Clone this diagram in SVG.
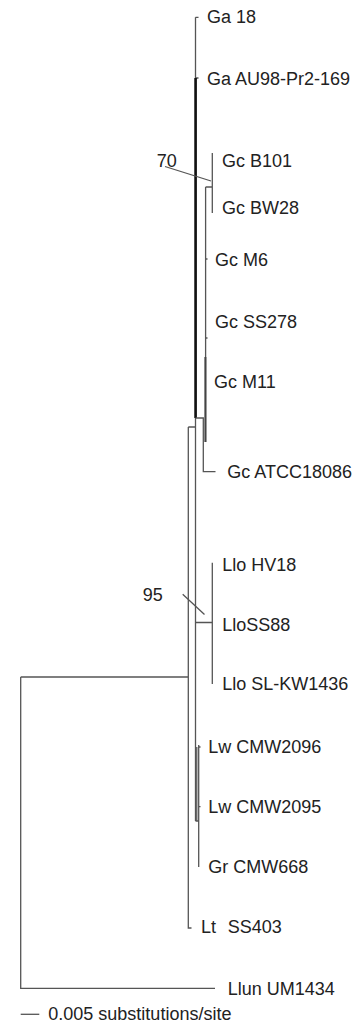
<svg xmlns="http://www.w3.org/2000/svg" width="362" height="1026" viewBox="0 0 362 1026">
<style>
text{font-family:"Liberation Sans",Arial,sans-serif;font-size:18px;fill:#222}
.l{stroke:#555;stroke-width:1.3;fill:none}
.t{stroke:#111;stroke-width:2.6;fill:none}
.m{stroke:#444;stroke-width:2;fill:none}
</style>
<rect width="362" height="1026" fill="#fff"/>
<g id="connectors">
<path class="l" d="M20.7,677 V988.3 H215 M20.7,677 H188.3 M188.3,427 V928 H191.5 M188.3,427 H195.5 M195.5,17.3 V821 M195.5,17.3 H198.5 M195.5,78 H198.5"/>
<path class="t" d="M195.6,78 V418"/>
<path class="l" d="M195.6,418 H203.3 V471.7 H215.5 M205.6,187 V442 M205.6,187 H212.3 M212.3,153 V213 M205.6,259 H207.5 M205.6,338 H207.5"/>
<path class="m" d="M205.4,357 V442"/>
<path class="l" d="M195.5,622.5 H212.3 M212.3,562.7 V684"/>
<path class="l" d="M195.5,821 H198.7 M196.8,747 V821 M198.7,745 V867 M198.7,747 H200.5 M198.7,806.7 H200.5"/>
<path class="l" d="M165,166.5 L211,181 M182.7,594.3 L204.5,614.5"/>
<path class="l" d="M20.7,1014.3 H39.3"/>
</g>
<g id="labels">
<text x="207" y="23">Ga 18</text>
<text x="207" y="85">Ga AU98-Pr2-169</text>
<text x="156.7" y="166.7">70</text>
<text x="222" y="166.7">Gc B101</text>
<text x="222" y="214">Gc BW28</text>
<text x="215" y="266">Gc M6</text>
<text x="215" y="327.7">Gc SS278</text>
<text x="214" y="387.7">Gc M11</text>
<text x="227.3" y="477.7">Gc ATCC18086</text>
<text x="222.3" y="570.7">Llo HV18</text>
<text x="142.7" y="600.7">95</text>
<text x="222.3" y="630.7">LloSS88</text>
<text x="222.3" y="690">Llo SL-KW1436</text>
<text x="208.3" y="752.7">Lw CMW2096</text>
<text x="208.3" y="813">Lw CMW2095</text>
<text x="208.3" y="873.3">Gr CMW668</text>
<text x="201" y="933.3">Lt<tspan x="227.7">SS403</tspan></text>
<text x="227.7" y="995">Llun UM1434</text>
<text x="48.3" y="1020">0.005 substitutions/site</text>
</g>
</svg>
